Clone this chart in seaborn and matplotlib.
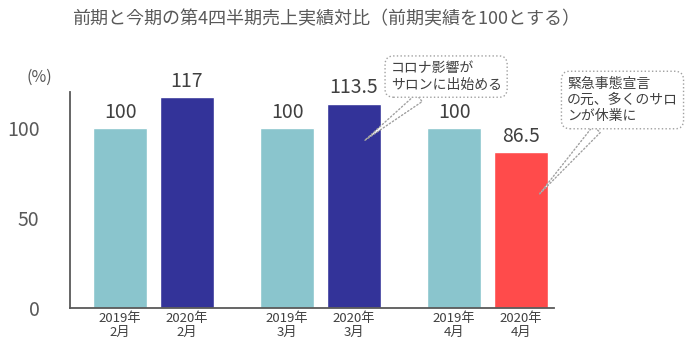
import matplotlib
matplotlib.use("Agg")
import matplotlib.pyplot as plt
import pandas as pd
import seaborn as sns

# data
categories = ["2019年\n2月", "2020年\n2月", "2019年\n3月", "2020年\n3月", "2019年\n4月", "2020年\n4月"]
values = [100, 117, 100, 113.5, 100, 86.5]
kinds = ["prev", "cur", "prev", "cur", "prev", "cur_apr"]
positions = [0, 1, 2.5, 3.5, 5, 6]  # gap between month groups

palette = {"prev": "#8AC5CD", "cur": "#333399", "cur_apr": "#FF4B4B"}
text_col = "#595959"

sns.set_style("white")
plt.rcParams["font.family"] = ["Noto Sans CJK JP", "DejaVu Sans"]

df = pd.DataFrame({"pos": positions, "value": values, "kind": kinds})

fig = plt.figure(figsize=(6.9, 3.59), dpi=100)
ax = fig.add_axes([0.1014, 0.142, 0.702, 0.602])

sns.barplot(data=df, x="pos", y="value", hue="kind", palette=palette,
            native_scale=True, width=0.8, dodge=False, legend=False,
            saturation=1, ax=ax)

for x, v in zip(positions, values):
    ax.text(x, v + 3, f"{v:g}", ha="center", va="bottom",
            fontsize=14, color="#404040")

ax.set_xlim(-0.75, 6.5)
ax.set_ylim(0, 120)
ax.set_xticks(positions)
ax.set_xticklabels(categories, fontsize=9.5, color="#404040", linespacing=1.05)
ax.set_yticks([0, 50, 100])
ax.set_yticklabels(["0", "50", "100"], fontsize=14, color=text_col)
ax.tick_params(axis="y", length=0, pad=22)
ax.tick_params(axis="x", length=0, pad=3)
ax.set_xlabel("")
ax.set_ylabel("")
for side in ["top", "right"]:
    ax.spines[side].set_visible(False)
for side in ["left", "bottom"]:
    ax.spines[side].set_color("#595959")
    ax.spines[side].set_linewidth(1.3)

ax.text(-1.21, 128, "(%)", ha="center", va="center", fontsize=11.5,
        color=text_col, clip_on=False)

fig.text(0.473, 0.945, "前期と今期の第4四半期売上実績対比（前期実績を100とする）",
         ha="center", va="center", fontsize=13, color=text_col)

bubble = dict(boxstyle="round,pad=0.4,rounding_size=0.6", fc="white",
              ec="#A0A0A0", ls=":", lw=1)
arrow = dict(arrowstyle="wedge,tail_width=0.7,shrink_factor=0.5", fc="white",
             ec="#A0A0A0", ls=":", lw=1, shrinkA=0, shrinkB=0)

ax.annotate("コロナ影響が\nサロンに出始める", xy=(3.66, 93), xytext=(4.88, 128.5),
            ha="center", va="center", fontsize=10, color="#404040",
            bbox=bubble, arrowprops=arrow, annotation_clip=False,
            linespacing=1.2, multialignment="left")
ax.annotate("緊急事態宣言\nの元、多くのサロ\nンが休業に", xy=(6.27, 63), xytext=(7.52, 115.5),
            ha="center", va="center", fontsize=10, color="#404040",
            bbox=bubble, arrowprops=arrow, annotation_clip=False,
            linespacing=1.2, multialignment="left")

fig.savefig("out.png", dpi=100)
